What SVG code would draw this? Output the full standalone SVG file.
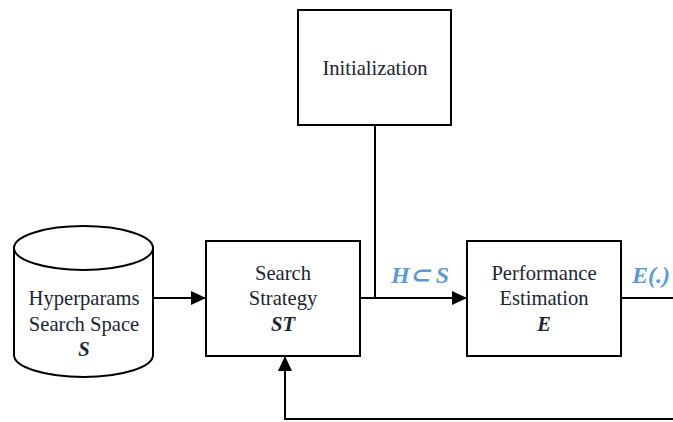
<svg xmlns="http://www.w3.org/2000/svg" width="673" height="422" viewBox="0 0 673 422">
<defs>
<style>
.box{fill:#fff;stroke:#000;stroke-width:2}
.ln{fill:none;stroke:#000;stroke-width:2}
.t{font-family:'Liberation Serif','Times New Roman',serif;font-size:20.6px;fill:#1c2533;text-anchor:middle}
.b{font-weight:bold;font-style:italic}
.lb{font-family:'Liberation Serif','Times New Roman',serif;font-size:24px;fill:#5b9bd5;font-weight:bold;font-style:italic}
</style>
<marker id="ah" viewBox="0 0 15 14" refX="15" refY="7" markerWidth="15" markerHeight="14" markerUnits="userSpaceOnUse" orient="auto">
<path d="M0,0 L15,7 L0,14 z" fill="#000"/>
</marker>
</defs>
<rect width="673" height="422" fill="#fff"/>
<g id="connectors">
<line class="ln" x1="153" y1="298" x2="206" y2="298" marker-end="url(#ah)"/>
<line class="ln" x1="375" y1="125" x2="375" y2="298"/>
<line class="ln" x1="360" y1="298" x2="467" y2="298" marker-end="url(#ah)"/>
<line class="ln" x1="621" y1="298" x2="673" y2="298"/>
<polyline class="ln" points="673,419 285,419 285,356" marker-end="url(#ah)"/>
</g>
<g id="init">
<rect class="box" x="298" y="10" width="153" height="115"/>
<text class="t" x="375" y="75">Initialization</text>
</g>
<g id="space">
<path class="box" d="M14,248 L14,355 A69.5,22 0 0 0 153,355 L153,248 A69.5,22 0 0 0 14,248 A69.5,22 0 0 0 153,248"/>
<text class="t" x="84" y="305">Hyperparams</text>
<text class="t" x="84" y="331">Search Space</text>
<text class="t b" x="84" y="356">S</text>
</g>
<g id="strategy">
<rect class="box" x="206" y="241" width="154" height="115"/>
<text class="t" x="283" y="280">Search</text>
<text class="t" x="283" y="305">Strategy</text>
<text class="t b" x="283" y="331">ST</text>
</g>
<g id="perf">
<rect class="box" x="467" y="241" width="154" height="115"/>
<text class="t" x="544" y="280">Performance</text>
<text class="t" x="544" y="305">Estimation</text>
<text class="t b" x="544" y="331">E</text>
</g>
<g id="labels">
<text class="lb" x="391" y="283">H⊂ S</text>
<text class="lb" x="632" y="283">E(.)</text>
</g>
</svg>
